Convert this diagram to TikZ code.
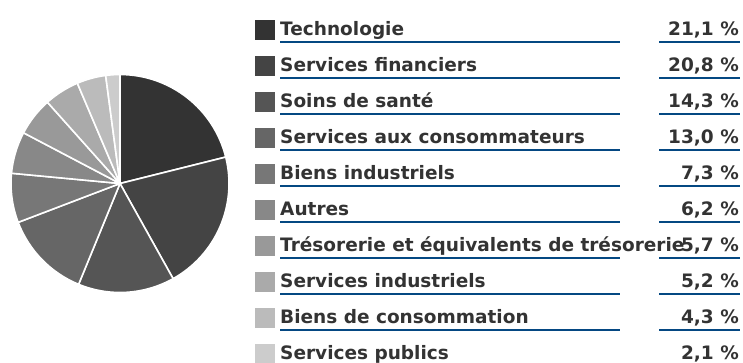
\documentclass[tikz,border=0pt]{standalone}
\usepackage{fontspec}
\setmainfont{DejaVu Sans}
\definecolor{txt}{HTML}{333333}
\definecolor{rule}{RGB}{4,72,130}
\begin{document}
\begin{tikzpicture}[x=1pt,y=-1pt,
  lab/.style={anchor=base west,inner sep=0pt,text=txt,font=\fontsize{18.5}{20}\selectfont\bfseries},
  val/.style={anchor=base east,inner sep=0pt,text=txt,font=\fontsize{18.5}{20}\selectfont\bfseries},
  swatch/.style={minimum width=20pt,minimum height=20pt,inner sep=0pt,draw=none},
  uline/.style={draw=rule,line width=2pt},
  slice/.style={draw=white,line width=1.6pt,line join=round}]
\useasboundingbox (0,0) rectangle (743,362);
\coordinate (c) at (120,183.5);
% pie
\foreach \a/\b/\g in {-90/-14.04/333333,-14.04/60.84/444444,60.84/112.32/555555,112.32/159.12/666666,159.12/185.4/777777,185.4/207.72/888888,207.72/228.24/999999,228.24/246.96/AAAAAA,246.96/262.44/BBBBBB,262.44/270/CCCCCC}{
  \definecolor{sl}{HTML}{\g}
  \filldraw[slice,fill=sl] (c) -- ++(\a:109) arc[start angle=\a,end angle=\b,radius=109] -- cycle;
}
% legend
\foreach \i/\t/\v/\g in {0/Technologie/{21,1 \%}/333333,
  1/Services financiers/{20,8 \%}/444444,
  2/Soins de santé/{14,3 \%}/555555,
  3/Services aux consommateurs/{13,0 \%}/666666,
  4/Biens industriels/{7,3 \%}/777777,
  5/Autres/{6,2 \%}/888888,
  6/Trésorerie et équivalents de trésorerie/{5,7 \%}/999999,
  7/Services industriels/{5,2 \%}/AAAAAA,
  8/Biens de consommation/{4,3 \%}/BBBBBB,
  9/Services publics/{2,1 \%}/CCCCCC}{
  \definecolor{sw}{HTML}{\g}
  \node[swatch,fill=sw] (s\i) at (265,30+36*\i) {};
  \node[lab] (l\i) at (280,35+36*\i) {\t};
  \node[val] (v\i) at (739,35+36*\i) {\v};
  \ifnum\i<9
    \draw[uline] (280,41.7+36*\i) -- (620,41.7+36*\i);
    \draw[uline] (659,41.7+36*\i) -- (740,41.7+36*\i);
  \fi
}
\end{tikzpicture}
\end{document}
